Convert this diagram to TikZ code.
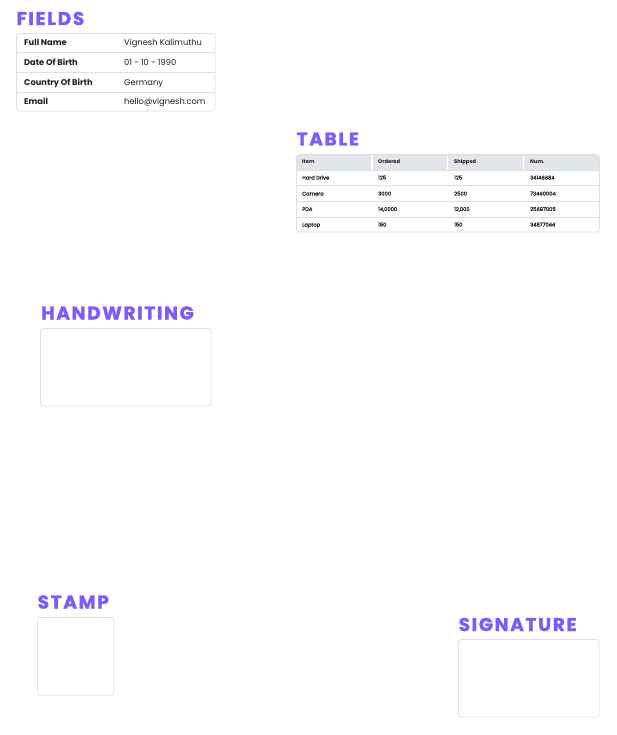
\documentclass[tikz,border=0pt]{standalone}
\usepackage{fontspec}
\setmainfont{Poppins}
\definecolor{hpurple}{HTML}{7C5CFA}
\definecolor{bline}{HTML}{DEDFE5}
\definecolor{hgray}{HTML}{E2E5EA}
\definecolor{txt}{HTML}{1E1E24}
\begin{document}
\begin{tikzpicture}[x=1pt,y=-1pt,
  heading/.style={anchor=base west,inner sep=0pt,text=hpurple,font=\fontsize{18.5}{20}\selectfont\bfseries\addfontfeature{LetterSpace=9,FakeBold=1.6}},
  flabel/.style={anchor=base west,inner sep=0pt,text=txt,font=\fontsize{8.3}{9}\selectfont\bfseries},
  fval/.style={anchor=base west,inner sep=0pt,text=txt,font=\fontsize{8.3}{9}\selectfont},
  thead/.style={anchor=base west,inner sep=0pt,text=txt,font=\fontsize{5.2}{6}\selectfont\bfseries},
  tcell/.style={anchor=base west,inner sep=0pt,text=txt,font=\fontsize{5.2}{6}\selectfont\addfontfeature{FakeBold=0.8}},
  panel/.style={draw=bline,line width=0.8pt,rounded corners=3pt,fill=white},
  sep/.style={draw=bline,line width=0.8pt}]
\useasboundingbox[fill=white] (0,0) rectangle (616,735);

% FIELDS
\node[heading] (hfields) at (16.5,25) {FIELDS};
\draw[panel] (16.5,33.5) rectangle (215,111);
\foreach \y in {52.5,72.5,92} \draw[sep] (16.5,\y) -- (215,\y);
\node[flabel] (f1l) at (24,46) {Full Name};
\node[fval]   (f1v) at (124,46) {Vignesh Kalimuthu};
\node[flabel] (f2l) at (24,66) {Date Of Birth};
\node[fval]   (f2v) at (124,66) {01 - 10 - 1990};
\node[flabel] (f3l) at (24,86) {Country Of Birth};
\node[fval]   (f3v) at (124,86) {Germany};
\node[flabel] (f4l) at (24,105) {Email};
\node[fval]   (f4v) at (124,105) {hello@vignesh.com};

% TABLE
\node[heading] (htable) at (296.5,145.5) {TABLE};
\begin{scope}
\clip[rounded corners=3pt] (296.5,154.5) rectangle (599.5,232);
\fill[hgray] (296.5,154.5) rectangle (599.5,170);
\foreach \x in {372,447.5,523.5} \draw[white,line width=1.6pt] (\x,154.5) -- (\x,170);
\end{scope}
\draw[panel,fill=none] (296.5,154.5) rectangle (599.5,232);
\foreach \y in {170,185.5,201.5,217} \draw[sep] (296.5,\y) -- (599.5,\y);
\node[thead] (th1) at (302,164) {Item};
\node[thead] (th2) at (378,164) {Ordered};
\node[thead] (th3) at (454,164) {Shipped};
\node[thead] (th4) at (530,164) {Num.};
\node[tcell] at (302,179.5) {Hard Drive};
\node[tcell] at (378,179.5) {125};
\node[tcell] at (454,179.5) {125};
\node[tcell] at (530,179.5) {34146684};
\node[tcell] at (302,195.5) {Camera};
\node[tcell] at (378,195.5) {3000};
\node[tcell] at (454,195.5) {2500};
\node[tcell] at (530,195.5) {73460004};
\node[tcell] at (302,211) {PDA};
\node[tcell] at (378,211) {14,0000};
\node[tcell] at (454,211) {12,000};
\node[tcell] at (530,211) {25697005};
\node[tcell] at (302,226.5) {Laptop};
\node[tcell] at (378,226.5) {150};
\node[tcell] at (454,226.5) {150};
\node[tcell] at (530,226.5) {34877066};

% HANDWRITING
\node[heading] (hhand) at (41,319.5) {HANDWRITING};
\draw[panel] (40.5,328.5) rectangle (211,406);

% STAMP
\node[heading] (hstamp) at (37.5,608.5) {STAMP};
\draw[panel] (37.5,617.5) rectangle (114,695);

% SIGNATURE
\node[heading] (hsig) at (458.5,631) {SIGNATURE};
\draw[panel] (458.5,639.5) rectangle (599,717);
\end{tikzpicture}
\end{document}
